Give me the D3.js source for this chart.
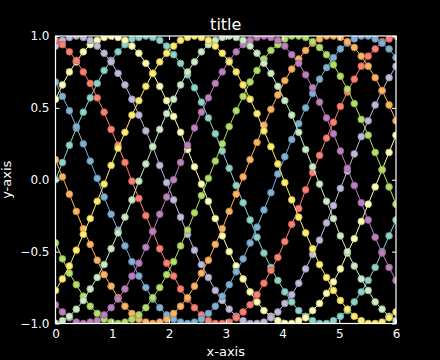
<!DOCTYPE html>
<html lang="en">
<head>
<meta charset="UTF-8">
<title>title</title>
<script src="https://cdn.jsdelivr.net/npm/d3@7"></script>
<style>
    body { margin: 0; padding: 0; background: #000; }
    svg { display: block; font-family: 'DejaVu Sans', sans-serif; }
    .axis text { fill: #fff; font-family: 'DejaVu Sans', sans-serif; }
    .axis path, .axis line { stroke: #fff; }
</style>
</head>
<body>
<svg id="chart" width="440" height="360"></svg>
<script>
    // x positions of the samples (50 points from 0 to 6)
    const xValues = [0, 0.122, 0.245, 0.367, 0.49, 0.612, 0.735, 0.857, 0.98, 1.102,
        1.224, 1.347, 1.469, 1.592, 1.714, 1.837, 1.959, 2.082, 2.204, 2.327,
        2.449, 2.571, 2.694, 2.816, 2.939, 3.061, 3.184, 3.306, 3.429, 3.551,
        3.673, 3.796, 3.918, 4.041, 4.163, 4.286, 4.408, 4.531, 4.653, 4.776,
        4.898, 5.02, 5.143, 5.265, 5.388, 5.51, 5.633, 5.755, 5.878, 6];

    const line0 = [0.00,0.12,0.24,0.36,0.47,0.57,0.67,0.76,0.83,0.89,0.94,0.98,0.99,1.00,0.99,0.97,0.93,0.87,0.81,0.73,0.64,0.54,0.43,0.32,0.20,0.08,-0.04,-0.16,-0.28,-0.40,-0.51,-0.61,-0.70,-0.78,-0.85,-0.91,-0.95,-0.98,-1.00,-1.00,-0.98,-0.95,-0.91,-0.85,-0.78,-0.70,-0.61,-0.50,-0.39,-0.28];
    const line1 = [0.56,0.66,0.75,0.82,0.89,0.94,0.97,0.99,1.00,0.99,0.97,0.93,0.88,0.81,0.74,0.65,0.55,0.44,0.33,0.21,0.09,-0.03,-0.15,-0.27,-0.39,-0.50,-0.60,-0.69,-0.78,-0.85,-0.91,-0.95,-0.98,-1.00,-1.00,-0.98,-0.96,-0.91,-0.86,-0.79,-0.71,-0.62,-0.51,-0.41,-0.29,-0.17,-0.05,0.07,0.19,0.31];
    const line2 = [0.93,0.97,0.99,1.00,0.99,0.97,0.93,0.88,0.82,0.74,0.66,0.56,0.45,0.34,0.23,0.10,-0.02,-0.14,-0.26,-0.38,-0.49,-0.59,-0.68,-0.77,-0.84,-0.90,-0.95,-0.98,-1.00,-1.00,-0.99,-0.96,-0.92,-0.86,-0.80,-0.72,-0.62,-0.52,-0.42,-0.30,-0.18,-0.06,0.06,0.18,0.30,0.41,0.52,0.62,0.71,0.79];
    const line3 = [0.97,0.94,0.89,0.83,0.75,0.67,0.57,0.47,0.35,0.24,0.12,-0.01,-0.13,-0.25,-0.36,-0.48,-0.58,-0.67,-0.76,-0.83,-0.89,-0.94,-0.98,-1.00,-1.00,-0.99,-0.96,-0.92,-0.87,-0.80,-0.72,-0.63,-0.54,-0.43,-0.31,-0.20,-0.07,0.05,0.17,0.29,0.40,0.51,0.61,0.70,0.79,0.86,0.91,0.96,0.98,1.00];
    const line4 = [0.68,0.58,0.48,0.37,0.25,0.13,0.01,-0.12,-0.24,-0.35,-0.46,-0.57,-0.67,-0.75,-0.83,-0.89,-0.94,-0.97,-0.99,-1.00,-0.99,-0.97,-0.93,-0.88,-0.81,-0.73,-0.64,-0.55,-0.44,-0.33,-0.21,-0.09,0.04,0.16,0.28,0.39,0.50,0.60,0.70,0.78,0.85,0.91,0.95,0.98,1.00,1.00,0.98,0.95,0.91,0.85];
    const line5 = [0.14,0.02,-0.10,-0.22,-0.34,-0.45,-0.56,-0.66,-0.74,-0.82,-0.88,-0.93,-0.97,-0.99,-1.00,-0.99,-0.97,-0.93,-0.88,-0.82,-0.74,-0.65,-0.56,-0.45,-0.34,-0.22,-0.10,0.02,0.14,0.26,0.38,0.49,0.59,0.69,0.77,0.84,0.90,0.95,0.98,1.00,1.00,0.99,0.96,0.92,0.86,0.79,0.71,0.62,0.52,0.41];
    const line6 = [-0.44,-0.55,-0.65,-0.73,-0.81,-0.88,-0.93,-0.97,-0.99,-1.00,-0.99,-0.97,-0.94,-0.89,-0.82,-0.75,-0.66,-0.57,-0.46,-0.35,-0.23,-0.11,0.01,0.13,0.25,0.37,0.48,0.58,0.68,0.76,0.84,0.90,0.94,0.98,1.00,1.00,0.99,0.96,0.92,0.87,0.80,0.72,0.63,0.53,0.42,0.31,0.19,0.07,-0.05,-0.17];
    const line7 = [-0.87,-0.92,-0.96,-0.99,-1.00,-0.99,-0.98,-0.94,-0.89,-0.83,-0.76,-0.67,-0.58,-0.47,-0.36,-0.24,-0.12,0.00,0.12,0.24,0.36,0.47,0.57,0.67,0.75,0.83,0.89,0.94,0.97,0.99,1.00,0.99,0.97,0.93,0.87,0.81,0.73,0.64,0.54,0.43,0.32,0.20,0.08,-0.04,-0.16,-0.28,-0.40,-0.51,-0.61,-0.70];
    const line8 = [-1.00,-0.98,-0.95,-0.90,-0.84,-0.76,-0.68,-0.59,-0.48,-0.37,-0.26,-0.14,-0.01,0.11,0.23,0.35,0.46,0.56,0.66,0.75,0.82,0.89,0.94,0.97,0.99,1.00,0.99,0.97,0.93,0.88,0.81,0.74,0.65,0.55,0.45,0.33,0.21,0.09,-0.03,-0.15,-0.27,-0.39,-0.50,-0.60,-0.69,-0.77,-0.85,-0.90,-0.95,-0.98];
    const line9 = [-0.77,-0.69,-0.60,-0.49,-0.38,-0.27,-0.15,-0.03,0.10,0.22,0.33,0.45,0.55,0.65,0.74,0.82,0.88,0.93,0.97,0.99,1.00,0.99,0.97,0.93,0.88,0.82,0.75,0.66,0.56,0.46,0.34,0.23,0.11,-0.02,-0.14,-0.26,-0.37,-0.48,-0.59,-0.68,-0.77,-0.84,-0.90,-0.95,-0.98,-1.00,-1.00,-0.99,-0.96,-0.92];

    const lineColors = ["#8dd3c7", "#ffffb3", "#bebada", "#fb8072", "#80b1d3",
        "#fdb462", "#b3de69", "#bc80bd", "#ccebc5", "#ffed6f"];

    const xTicks = [0, 1, 2, 3, 4, 5, 6];
    const yTicks = [-1.0, -0.5, 0.0, 0.5, 1.0];

    const allLines = [line0, line1, line2, line3, line4, line5, line6, line7, line8, line9];

    const svg = d3.select("#chart");
    const plotLeft = 55.5, plotRight = 396, plotTop = 36, plotBottom = 323.5;

    svg.append("rect").attr("width", 440).attr("height", 360).attr("fill", "#000");

    const x = d3.scaleLinear().domain([0, 6]).range([plotLeft, plotRight]);
    const y = d3.scaleLinear().domain([-1, 1]).range([plotBottom, plotTop]);

    svg.append("clipPath").attr("id", "plotClip")
        .append("rect")
        .attr("x", plotLeft).attr("y", plotTop)
        .attr("width", plotRight - plotLeft).attr("height", plotBottom - plotTop);

    const plot = svg.append("g").attr("clip-path", "url(#plotClip)");
    const lineGen = d3.line().x((d, i) => x(xValues[i])).y(d => y(d));

    allLines.forEach((vals, k) => {
        const c = lineColors[k];
        const g = plot.append("g");
        g.append("path")
            .attr("d", lineGen(vals))
            .attr("fill", "none")
            .attr("stroke", c)
            .attr("stroke-width", 1);
        g.selectAll("circle")
            .data(vals)
            .enter().append("circle")
            .attr("cx", (d, i) => x(xValues[i]))
            .attr("cy", d => y(d))
            .attr("r", 3.4)
            .attr("fill", c)
            .attr("stroke", d3.color(c).darker(0.9))
            .attr("stroke-width", 0.8);
    });

    const fmtY = d => d3.format(".1f")(d).replace("-", "\u2212");

    // bottom and left axes with inward ticks
    svg.append("g").attr("class", "axis")
        .attr("transform", `translate(0,${plotBottom})`)
        .call(d3.axisBottom(x).tickValues(xTicks).tickSizeInner(-4).tickSizeOuter(0).tickPadding(6).tickFormat(d3.format("d")))
        .call(g => g.select(".domain").remove());

    svg.append("g").attr("class", "axis")
        .attr("transform", `translate(${plotLeft},0)`)
        .call(d3.axisLeft(y).tickValues(yTicks).tickSizeInner(-4).tickSizeOuter(0).tickPadding(6).tickFormat(fmtY))
        .call(g => g.select(".domain").remove());

    svg.append("g").attr("class", "axis")
        .attr("transform", `translate(0,${plotTop})`)
        .call(d3.axisTop(x).tickValues(xTicks).tickSizeInner(-4).tickSizeOuter(0).tickFormat(""))
        .call(g => g.select(".domain").remove());

    svg.append("g").attr("class", "axis")
        .attr("transform", `translate(${plotRight},0)`)
        .call(d3.axisRight(y).tickValues(yTicks).tickSizeInner(-4).tickSizeOuter(0).tickFormat(""))
        .call(g => g.select(".domain").remove());

    svg.selectAll(".axis .tick text").attr("font-size", 12);

    // frame
    svg.append("rect")
        .attr("x", plotLeft).attr("y", plotTop)
        .attr("width", plotRight - plotLeft).attr("height", plotBottom - plotTop)
        .attr("fill", "none").attr("stroke", "#fff").attr("stroke-width", 1.2);

    svg.append("text")
        .attr("x", (plotLeft + plotRight) / 2).attr("y", 30)
        .attr("text-anchor", "middle")
        .attr("fill", "#fff").attr("font-size", 16)
        .text("title");

    svg.append("text")
        .attr("x", (plotLeft + plotRight) / 2).attr("y", 356)
        .attr("text-anchor", "middle")
        .attr("fill", "#fff").attr("font-size", 13)
        .text("x-axis");

    svg.append("text")
        .attr("transform", `translate(11,${(plotTop + plotBottom) / 2}) rotate(-90)`)
        .attr("text-anchor", "middle")
        .attr("fill", "#fff").attr("font-size", 13)
        .text("y-axis");
</script>
</body>
</html>
